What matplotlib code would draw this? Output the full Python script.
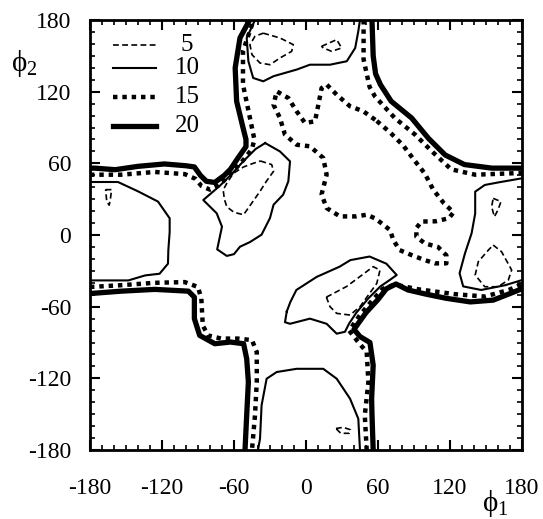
import numpy as np
import matplotlib
matplotlib.use("Agg")
import matplotlib.pyplot as plt

plt.rcParams['font.family'] = ['Liberation Serif', 'DejaVu Serif']
plt.rcParams['mathtext.fontset'] = 'custom'
plt.rcParams['mathtext.rm'] = 'Liberation Serif'
plt.rcParams['mathtext.it'] = 'Liberation Serif'
plt.rcParams['axes.unicode_minus'] = False

# contour lines, (phi1, phi2) in degrees
# level 20
c20_top_left = [(-180, 56), (-176, 56), (-159, 54.7), (-140, 57.5), (-118, 59.5), (-100, 58), (-93, 57),
                (-88, 50), (-83, 45), (-76, 44), (-68, 50), (-63, 55), (-57, 64), (-50, 74), (-50, 80),
                (-52.5, 90), (-57.8, 112), (-59, 140), (-55, 165), (-47, 180)]
c20_top_right = [(55, 180), (56, 150), (58, 135), (62, 126), (71, 112), (88, 98), (102, 81), (116, 67),
                 (132, 59), (155, 56), (180, 56)]
c20_bottom_left = [(-180, -49), (-154, -47), (-126, -45.5), (-98, -47), (-93, -52), (-93, -70), (-88.6, -84),
                   (-76, -91), (-63, -89.6), (-52, -91), (-49.4, -103.6), (-48, -123), (-49.4, -150.7),
                   (-50.8, -180)]
c20_bottom_right = [(56, -180), (55, -150), (54.7, -137), (56, -109), (53.3, -90), (45, -85), (40, -79),
                    (50, -65), (60, -54), (67, -45), (75, -41), (85, -46), (100, -49.5), (117, -53),
                    (137, -56), (156, -54.5), (170, -49), (180, -45)]

# level 15
c15_top_left = [(-180, 50.5), (-154, 50.5), (-126, 52.8), (-101, 51), (-92, 47), (-87, 41), (-80, 38),
                (-72, 42), (-62, 52), (-52, 63), (-45, 72), (-43, 80), (-46.7, 98), (-52.5, 126),
                (-52.5, 154), (-45, 176), (-44, 180)]
c15_top_right = [(48, 180), (48, 147), (53, 124), (57.5, 116), (74, 98), (91, 84), (105, 70), (121, 55),
                 (141, 50.5), (180, 52)]
c15_bottom_left = [(-180, -43.5), (-154, -42), (-126, -40), (-101, -39.4), (-90, -43.5), (-87.2, -53.4),
                   (-86, -75.6), (-81.7, -84), (-70.6, -86.7), (-56.7, -86.7), (-45, -88), (-41, -98),
                   (-41, -123), (-42.5, -151), (-45, -180)]
c15_bottom_right = [(50.6, -180), (49, -151), (52, -123), (50.6, -98), (43, -89), (36, -80), (45, -67),
                    (55, -55), (64, -45), (74, -41.5), (94, -45.5), (124, -49.5), (149, -51.5), (169, -46),
                    (180, -41)]
c15_center = [(59, 95.5), (70, 86), (81, 75), (90, 63), (99, 51.5), (106, 38), (115, 26.5), (123, 19),
              (119, 14), (108, 11.5), (96.4, 11.3), (92, 6), (92, -1.4), (99, -7), (110, -10), (117, -17),
              (117, -23.7), (107.5, -23.7), (99, -21), (88, -16.8), (78, -12.6), (72.8, -4.2), (70, 4.2),
              (63, 9.8), (57.5, 14), (50.6, 17), (42, 15.6), (28.3, 15.6), (17.2, 22.6), (13, 34),
              (17.2, 50.5), (14.4, 64.5), (3.3, 74.3), (-7.8, 75.6), (-17.5, 84), (-21.7, 98), (-27, 109),
              (-24.4, 120.3), (-14.7, 114.7), (-7.8, 103.6), (-0.8, 93.8), (7.5, 95.2), (10.3, 109),
              (13, 123), (17.2, 126), (25.6, 117.5), (36.7, 107.8), (47.8, 103.6), (59, 95.5)]

# level 10
c10_left = [(-180, 44.4), (-156.7, 44.4), (-140, 36.6), (-123.3, 28), (-113.6, 14), (-113.6, 2.5),
            (-114.7, -12.6), (-115, -24), (-122, -32.4), (-134, -33.8), (-148, -38), (-180, -38)]
c10_right = [(180, 47.5), (160, 44), (149, 41.9), (141, 36.3), (141, 18), (138, 1.4), (132.5, -15.3),
             (128, -32), (131, -43), (146, -46), (166, -42), (180, -37.7)]
c10_top = [(-42.5, 180), (-49.4, 165), (-48, 145.5), (-44, 131.5), (-35.6, 128.7), (-27, 133), (-7.8, 138.5),
           (3.3, 142.6), (20, 142.6), (34, 145.5), (41, 156.6), (43.6, 170.6), (45, 180)]
c10_bottom = [(-40, -180), (-38.3, -170.6), (-37, -142.6), (-32.8, -120.3), (-24.4, -114.7), (-7.8, -112),
              (14.4, -112), (25.6, -120.3), (36.7, -137), (43.6, -153.8), (45, -180)]
c10_mid_left = [(-34, 77), (-21.7, 70), (-13.3, 61.7), (-14.7, 45), (-19, 33.8), (-27, 25.4), (-30, 14.2),
                (-37, 0.3), (-46.7, -5.9), (-55, -9.8), (-60, -16), (-66, -17.5), (-74, -12), (-70, 7),
                (-74.4, 18.2), (-85.6, 29.3), (-79, 35), (-72, 41), (-62, 51), (-52, 62), (-42, 72), (-34, 77)]
c10_mid_right = [(-16, -64), (-17.5, -73), (-13.3, -74.3), (3.3, -70), (17.2, -74.3), (25.6, -82.6),
                 (32.5, -81), (36, -74), (42, -65), (52, -53), (62, -43), (70, -37.5), (75.6, -33.5),
                 (67, -24), (53, -18), (37, -21), (28, -26.5), (9, -35), (-8, -46), (-13, -56), (-16, -64)]

# level 5
c5_top_big = [(-35.6, 169), (-21.7, 165), (-10.6, 159.4), (-11.9, 153.8), (-21.7, 148.2), (-30, 142.6),
              (-38.3, 144), (-45, 151), (-46.7, 159.4), (-42.5, 166.4), (-35.6, 169)]
c5_top_small = [(13, 158), (25.6, 163.6), (29.7, 156.6), (21.4, 153.8), (14.4, 156.6), (13, 158)]
c5_mid_left = [(-38, 62), (-28.6, 59), (-27, 53.4), (-33, 45), (-38.3, 36.6), (-45, 27), (-52, 17), (-60, 19),
               (-66, 23.7), (-68, 30), (-69, 37.7), (-66, 43.3), (-60.5, 51.7), (-52, 57), (-44, 60), (-38, 62)]
c5_mid_right = [(17, -52), (34, -43), (56, -26.5), (61.7, -29.3), (59, -40.5), (45, -60), (36.7, -67),
                (25.6, -65.6), (20, -60), (17, -52)]
c5_bottom_small = [(25, -162), (31, -161), (37, -163), (36, -166), (29, -166), (25, -162)]
c5_left_small = [(-167, 38), (-162, 38), (-163, 30), (-164, 25), (-166, 28), (-167, 38)]
c5_right_small = [(156, 30.7), (162.5, 28), (160, 21), (157, 15.3), (154.7, 23.7), (156, 30.7)]
c5_right_tri = [(156, -8.4), (163, -14), (171.4, -29.3), (168.6, -37.7), (160, -43.3), (149, -43.3),
                (141, -33.5), (143.6, -22.3), (152, -12.6), (156, -8.4)]

levels = [5, 10, 15, 20]
paths = {
    5: [c5_top_big, c5_top_small, c5_mid_left, c5_mid_right, c5_bottom_small, c5_left_small,
        c5_right_small, c5_right_tri],
    10: [c10_left, c10_right, c10_top, c10_bottom, c10_mid_left, c10_mid_right],
    15: [c15_top_left, c15_top_right, c15_bottom_left, c15_bottom_right, c15_center],
    20: [c20_top_left, c20_top_right, c20_bottom_left, c20_bottom_right],
}
styles = {
    5: dict(ls=(0, (3.5, 2.0)), lw=1.2),
    10: dict(ls='-', lw=1.5),
    15: dict(ls=(0, (1.0, 1.1)), lw=3.2),
    20: dict(ls='-', lw=3.8),
}

fig = plt.figure(figsize=(5.43, 5.19), dpi=100)
ax = fig.add_axes([0.1657, 0.1329, 0.7956, 0.8285])

for lev in levels:
    for p in paths[lev]:
        a = np.array(p)
        ax.plot(a[:, 0], a[:, 1], color='black', **styles[lev])

ax.set_xlim(-180, 180)
ax.set_ylim(-180, 180)
ticks = [-180, -120, -60, 0, 60, 120, 180]
ax.set_xticks(ticks)
ax.set_yticks(ticks)
ax.set_xticks(np.arange(-180, 181, 10), minor=True)
ax.set_yticks(np.arange(-180, 181, 10), minor=True)
ax.tick_params(which='both', direction='in', top=True, right=True, colors='black')
ax.tick_params(which='major', length=7, width=1.5, labelsize=17)
ax.tick_params(which='minor', length=3.5, width=1.2)
ax.tick_params(axis='x', which='major', pad=20)
ax.tick_params(axis='y', which='major', pad=13.5)
for s in ax.spines.values():
    s.set_linewidth(2)

# axis titles
ax.text(-0.153, 0.9, r'$\phi_2$', transform=ax.transAxes, ha='center', va='center', fontsize=21)
ax.text(0.9375, -0.125, r'$\phi_1$', transform=ax.transAxes, ha='center', va='center', fontsize=21)

# legend drawn by hand so the labels sit centred
leg_y = [0.9426, 0.888, 0.821, 0.7535]
for lev, yy in zip(levels, leg_y):
    ax.plot([0.053, 0.153], [yy, yy], transform=ax.transAxes, color='black', **styles[lev])
    ax.text(0.2245, yy, str(lev), transform=ax.transAxes, ha='center', va='center', fontsize=18)

fig.savefig('out.png', dpi=100)
